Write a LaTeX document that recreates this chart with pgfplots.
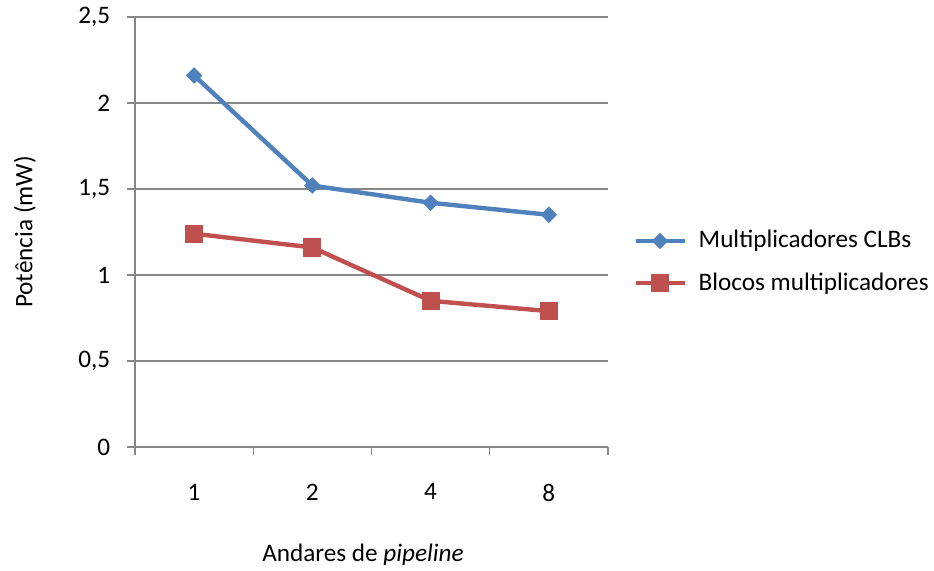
\documentclass[border=0pt]{standalone}
\usepackage{fontspec}
\setmainfont{Carlito}
\usepackage{pgfplots}
\pgfplotsset{compat=1.18}
\definecolor{serieblue}{HTML}{4F81BD}
\definecolor{seriered}{HTML}{C0504D}
\definecolor{gridgray}{HTML}{878787}
\begin{document}
\fontsize{12.6pt}{15pt}\selectfont
\begin{tikzpicture}
\useasboundingbox (0,0) rectangle (467pt,285pt);
\begin{axis}[
  at={(67.5pt,61.5pt)}, anchor=south west,
  scale only axis, width=236.5pt, height=215pt,
  xmin=-0.5, xmax=3.5, ymin=0, ymax=2.5,
  xtick={0,1,2,3}, xticklabels={1,2,4,8},
  minor xtick={-0.5,0.5,1.5,2.5,3.5},
  ytick={0,0.5,1,1.5,2,2.5},
  /pgf/number format/assume math mode=true,
  /pgf/number format/use comma,
  yticklabel style={/pgf/number format/fixed},
  axis x line*=bottom, axis y line*=left,
  axis line style={gridgray, line width=0.7pt, -},
  ymajorgrids, major grid style={gridgray, line width=0.7pt},
  tick align=outside,
  major tick length=4pt, minor tick length=4pt,
  xtick style={draw=none},
  minor x tick style={draw=gridgray, line width=0.7pt},
  ytick style={gridgray, line width=0.7pt},
  xticklabel style={yshift=-10pt},
  yticklabel style={xshift=-4pt},
  ylabel={Potência (mW)},
  ylabel style={at={(rel axis cs:-0.2326,0.5)}, anchor=center, rotate=0},
  xlabel={Andares de \textit{pipeline}},
  xlabel style={at={(rel axis cs:0.482,-0.251)}, anchor=center},
  legend style={at={(rel axis cs:1.04,0.43)}, anchor=west, draw=none, fill=none,
    row sep=6.5pt, nodes={inner xsep=6pt, anchor=west}},
  legend cell align=left,
  legend image code/.code={%
    \draw[mark repeat=2, mark phase=2] plot coordinates {(0pt,0pt) (12.25pt,0pt) (24.5pt,0pt)};},
  clip=false,
]
\addplot[serieblue, line width=2.2pt, mark=square*, mark size=2.65pt,
  mark options={rotate=45, solid, fill=serieblue, draw=serieblue, line width=0.5pt}]
  coordinates {(0,2.16) (1,1.52) (2,1.42) (3,1.35)};
\addlegendentry{Multiplicadores CLBs}
\addplot[seriered, line width=2.2pt, mark=square*, mark size=4.3pt,
  mark options={solid, fill=seriered, draw=seriered, line width=0.5pt}]
  coordinates {(0,1.24) (1,1.16) (2,0.85) (3,0.79)};
\addlegendentry{Blocos multiplicadores}
\end{axis}
\end{tikzpicture}
\end{document}
